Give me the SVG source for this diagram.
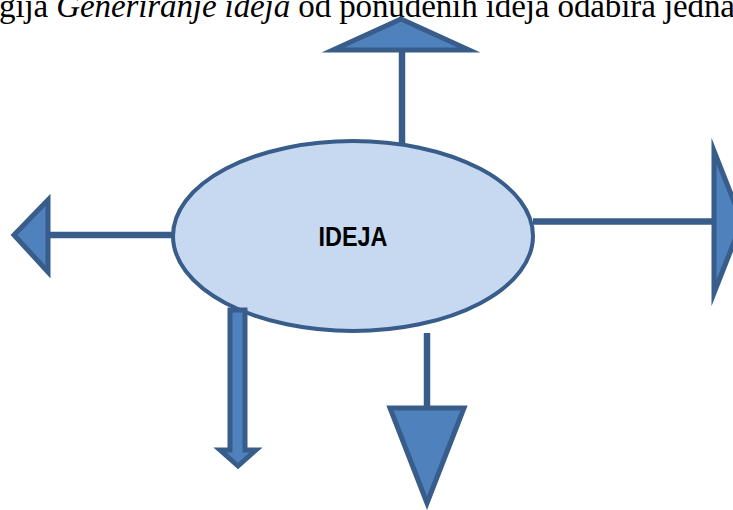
<svg xmlns="http://www.w3.org/2000/svg" width="733" height="510" viewBox="0 0 733 510">
<style>
.stem{stroke:#385D8A;stroke-width:6.5;fill:none}
.head{fill:#4F81BD;stroke:#385D8A;stroke-width:5;stroke-linejoin:miter;stroke-miterlimit:10}
.body{font-family:"Liberation Serif","Times New Roman",serif;font-size:33px;fill:#000}
.lbl{font-family:"Liberation Sans",Arial,sans-serif;font-weight:bold;font-size:27px;fill:#000}
</style>
<rect width="733" height="510" fill="#fff"/>
<text class="body" x="-1" y="17" textLength="736" lengthAdjust="spacing">gija <tspan font-style="italic">Generiranje ideja</tspan> od ponuđenih ideja odabira jedna</text>
<g id="node-ideja">
<ellipse cx="353" cy="236" rx="180" ry="95" fill="#C6D9F1" stroke="#385D8A" stroke-width="4"/>
<text class="lbl" x="353" y="246" text-anchor="middle" textLength="69" lengthAdjust="spacingAndGlyphs">IDEJA</text>
</g>
<g id="connectors">
<g id="arrow-up">
<line class="stem" x1="402" y1="143" x2="402" y2="50"/>
<polygon class="head" points="401,19 333,50 469,50"/>
</g>
<g id="arrow-left">
<line class="stem" x1="173" y1="235" x2="48" y2="235"/>
<polygon class="head" points="14,235 48,200 48,272"/>
</g>
<g id="arrow-right">
<line class="stem" x1="533" y1="221.5" x2="714" y2="221.5"/>
<polygon class="head" points="714,151 714,293 742,222"/>
</g>
<g id="arrow-down-left">
<polygon class="head" points="230,310 245,310 245,450 256,450 238,466 220,450 230,450"/>
</g>
<g id="arrow-down">
<line class="stem" x1="427" y1="333" x2="427" y2="408"/>
<polygon class="head" points="390,408 464,408 427,503"/>
</g>
</g>
</svg>
